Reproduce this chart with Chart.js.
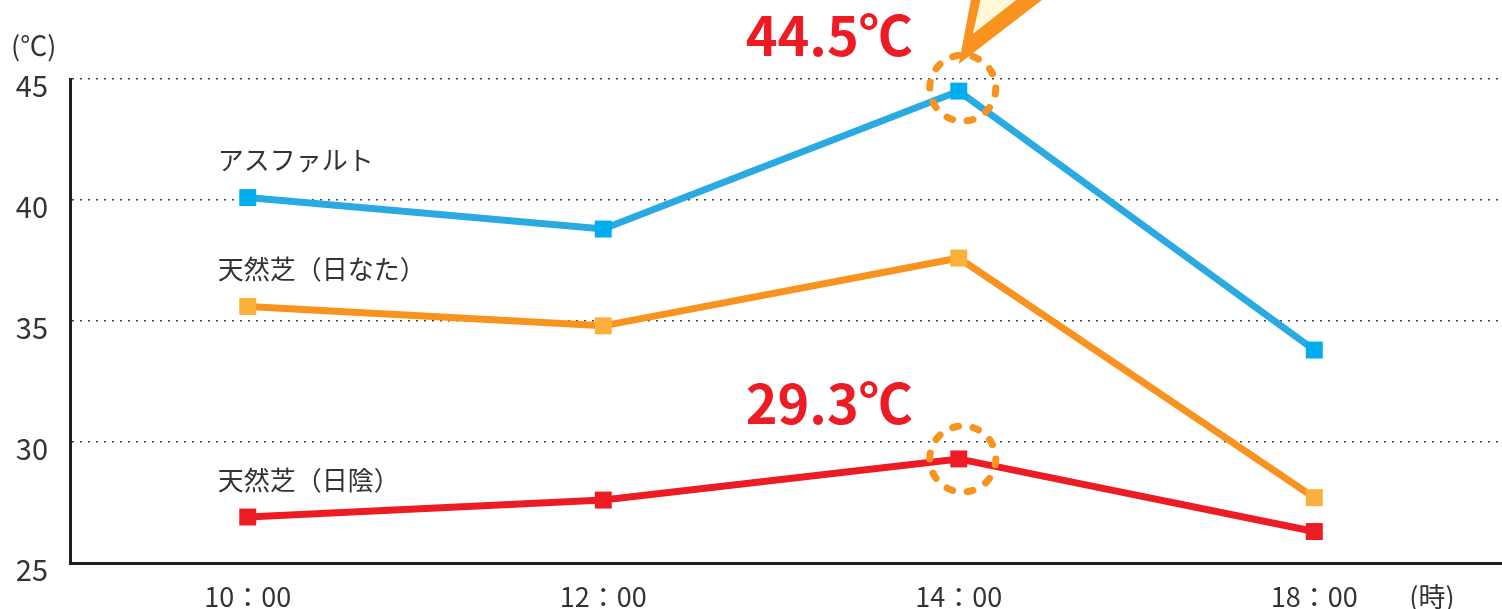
<!DOCTYPE html>
<html>
<head>
<meta charset="utf-8">
<script src="https://cdn.jsdelivr.net/npm/chart.js@4.4.0/dist/chart.umd.min.js"></script>
<style>
html,body{margin:0;padding:0;background:#fff;}
#c{display:block;}
</style>
</head>
<body>
<canvas id="c" width="1502" height="609"></canvas>
<script>
const timeLabels = ['10：00', '12：00', '14：00', '18：00'];
const seriesNames = ['アスファルト', '天然芝（日なた）', '天然芝（日陰）'];
const asphalt = [40.1, 38.8, 44.5, 33.8];
const grassSun = [35.6, 34.8, 37.6, 27.7];
const grassShade = [26.9, 27.6, 29.3, 26.3];
const yTicks = [25, 30, 35, 40, 45];
const unitY = '(℃)';
const unitX = '(時)';
const highlights = [{series: 0, index: 2, text: '44.5℃'}, {series: 2, index: 2, text: '29.3℃'}];

const FONT = "'Noto Sans CJK JP', 'Noto Sans', sans-serif";
const lineColors = ['#29ABE2', '#F7931E', '#ED1C24'];
const pointColors = ['#00AEEF', '#FBB03B', '#ED1C24'];

function toPoints(arr){ return arr.map((v,i)=>({x:i, y:v})); }

const decor = {
  id: 'decor',
  afterDatasetsDraw(chart){
    const ctx = chart.ctx;
    ctx.save();
    ctx.fillStyle = '#333';
    ctx.font = '400 26px ' + FONT;
    ctx.textAlign = 'left';
    ctx.textBaseline = 'middle';
    seriesNames.forEach((name, si) => {
      const p = chart.getDatasetMeta(si).data[0];
      ctx.fillText(name, p.x - 30, p.y - 37);
    });
    highlights.forEach((h, hi) => {
      const p = chart.getDatasetMeta(h.series).data[h.index];
      const cx = p.x + 4, cy = p.y - (hi === 0 ? 3 : 0);
      if (hi === 0) {
        ctx.beginPath();
        ctx.moveTo(p.x, p.y - 27);
        ctx.lineTo(p.x + 14, p.y - 101);
        ctx.lineTo(p.x + 96, p.y - 101);
        ctx.closePath();
        ctx.fillStyle = '#F7931E';
        ctx.fill();
        ctx.beginPath();
        ctx.moveTo(p.x + 14, p.y - 57);
        ctx.lineTo(p.x + 24, p.y - 101);
        ctx.lineTo(p.x + 70, p.y - 101);
        ctx.closePath();
        ctx.fillStyle = '#FFF9D9';
        ctx.fill();
      }
      ctx.beginPath();
      ctx.setLineDash([6, 14.7]);
      ctx.lineCap = 'round';
      ctx.lineWidth = 7;
      ctx.strokeStyle = '#F7931E';
      ctx.arc(cx, cy, 33, 0, Math.PI * 2);
      ctx.stroke();
      ctx.setLineDash([]);
      ctx.fillStyle = '#ED1C24';
      ctx.font = '700 54px ' + FONT;
      ctx.textAlign = 'right';
      ctx.textBaseline = 'alphabetic';
      ctx.fillText(h.text, p.x - 46, p.y - 35);
    });
    ctx.fillStyle = '#333';
    ctx.font = '400 27px ' + FONT;
    ctx.textAlign = 'left';
    ctx.textBaseline = 'middle';
    ctx.fillText(unitY, 11, 46);
    ctx.textAlign = 'center';
    ctx.fillText(unitX, 1432, 597);
    ctx.restore();
  }
};

const data = [asphalt, grassSun, grassShade];
new Chart(document.getElementById('c'), {
  type: 'line',
  data: {
    datasets: data.map((arr, i) => ({
      label: seriesNames[i],
      data: toPoints(arr),
      borderColor: lineColors[i],
      backgroundColor: pointColors[i],
      pointBackgroundColor: pointColors[i],
      pointBorderColor: pointColors[i],
      borderWidth: 7,
      pointStyle: 'rect',
      pointRadius: 12,
      pointBorderWidth: 0,
      tension: 0,
      fill: false
    }))
  },
  options: {
    responsive: false,
    animation: false,
    events: [],
    layout: {autoPadding: false, padding: {top: 79, left: 0, right: 0, bottom: 0}},
    plugins: {legend: {display: false}, tooltip: {enabled: false}},
    scales: {
      x: {
        type: 'linear',
        min: -0.5,
        max: 3.528,
        afterBuildTicks: (s) => { s.ticks = timeLabels.map((_, i) => ({value: i})); },
        afterFit: (s) => { s.height = 46; s.paddingLeft = 0; s.paddingRight = 0; },
        grid: {display: false, drawTicks: false},
        border: {display: true, color: '#231F20', width: 3},
        ticks: {
          callback: (v) => timeLabels[v],
          color: '#333',
          font: {family: FONT, size: 27},
          padding: 18,
          maxRotation: 0,
          autoSkip: false
        }
      },
      y: {
        min: 25,
        max: 45,
        afterBuildTicks: (s) => { s.ticks = yTicks.map(v => ({value: v})); },
        afterFit: (s) => { s.width = 70; s.paddingTop = 0; s.paddingBottom = 0; },
        grid: {display: true, drawTicks: false, color: '#444', lineWidth: 1.5},
        border: {display: true, color: '#231F20', width: 3, dash: [2, 6]},
        ticks: {
          color: '#333',
          font: {family: FONT, size: 29},
          padding: 22,
          labelOffset: 7
        }
      }
    }
  },
  plugins: [decor]
});
</script>
</body>
</html>
